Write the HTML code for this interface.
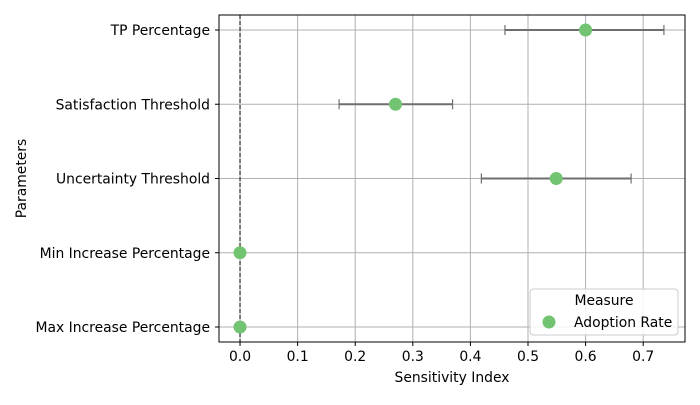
<!DOCTYPE html>
<html><head><meta charset="utf-8"><style>
body{margin:0;background:#fff;}
svg{font-family:"DejaVu Sans","Liberation Sans",sans-serif;}
</style></head><body>
<svg id="chart" width="700" height="400"></svg>
<script>
const categories=["TP Percentage","Satisfaction Threshold","Uncertainty Threshold","Min Increase Percentage","Max Increase Percentage"];
const values=[0.6,0.27,0.549,0,0];
const errLow=[0.46,0.172,0.419,null,null];
const errHigh=[0.736,0.369,0.679,null,null];
const xTicks=[0,0.1,0.2,0.3,0.4,0.5,0.6,0.7];
const xTickLabels=["0.0","0.1","0.2","0.3","0.4","0.5","0.6","0.7"];
const NS="http://www.w3.org/2000/svg";
const svg=document.getElementById('chart');
const L=219,R=685,T=15,B=342;
const xmin=-0.0365,xmax=0.7726;
const X=v=>L+(v-xmin)/(xmax-xmin)*(R-L);
const Y=i=>30+i*(327-30)/(categories.length-1);
const FS=13.9;
function el(t,a,p){const e=document.createElementNS(NS,t);for(const k in a)e.setAttribute(k,a[k]);(p||svg).appendChild(e);return e;}
xTicks.forEach((t,i)=>{
 const g=el('line',{x1:X(t),x2:X(t),y1:T,y2:B,stroke:'#b0b0b0','stroke-width':1});
 
 
 const tk=el('line',{x1:X(t),x2:X(t),y1:B,y2:B+4,stroke:'#000'});
 
 
 const lb=el('text',{x:X(t),y:B+19,'font-size':FS,'text-anchor':'middle'});
 lb.textContent=xTickLabels[i];
 
 
});
categories.forEach((c,i)=>{
 const g=el('line',{x1:L,x2:R,y1:Y(i),y2:Y(i),stroke:'#b0b0b0','stroke-width':1});
 
 
 const tk=el('line',{x1:L-4,x2:L,y1:Y(i),y2:Y(i),stroke:'#000'});
 
 
 const lb=el('text',{x:L-9,y:Y(i)+5,'font-size':FS,'text-anchor':'end'});
 lb.textContent=c;
 
 
});
const zl=el('line',{x1:X(0),x2:X(0),y1:T,y2:B,stroke:'#000','stroke-dasharray':'4,2','stroke-width':1});


categories.forEach((c,i)=>{
 if(errLow[i]!==null){
  const e=el('g',{stroke:'#6e6e6e','stroke-width':2});
  
  
  el('line',{x1:X(errLow[i]),x2:X(errHigh[i]),y1:Y(i),y2:Y(i)},e);
  el('line',{x1:X(errLow[i]),x2:X(errLow[i]),y1:Y(i)-5,y2:Y(i)+5,'stroke-width':1.2},e);
  el('line',{x1:X(errHigh[i]),x2:X(errHigh[i]),y1:Y(i)-5,y2:Y(i)+5,'stroke-width':1.2},e);
 }
 const p=el('circle',{cx:X(values[i]),cy:Y(i),r:6.5,fill:'#72c472'});
 
 
});
const fr=el('rect',{x:L,y:T,width:R-L,height:B-T,fill:'none',stroke:'#000','stroke-width':1});


const xt=el('text',{x:(L+R)/2,y:382,'font-size':FS,'text-anchor':'middle'});xt.textContent='Sensitivity Index';


const yt=el('text',{x:26,y:(T+B)/2,'font-size':FS,'text-anchor':'middle',transform:`rotate(-90 26 ${(T+B)/2})`});yt.textContent='Parameters';


const lg=el('g',{});


el('rect',{x:530,y:289,width:148,height:46,rx:3,fill:'#fff','fill-opacity':0.85,stroke:'#ccc'},lg);
const lt=el('text',{x:604,y:305,'font-size':FS,'text-anchor':'middle'},lg);lt.textContent='Measure';


const lm=el('circle',{cx:549,cy:322,r:6.5,fill:'#72c472'},lg);


const ll=el('text',{x:574,y:327,'font-size':FS},lg);ll.textContent='Adoption Rate';


</script>
</body></html>
